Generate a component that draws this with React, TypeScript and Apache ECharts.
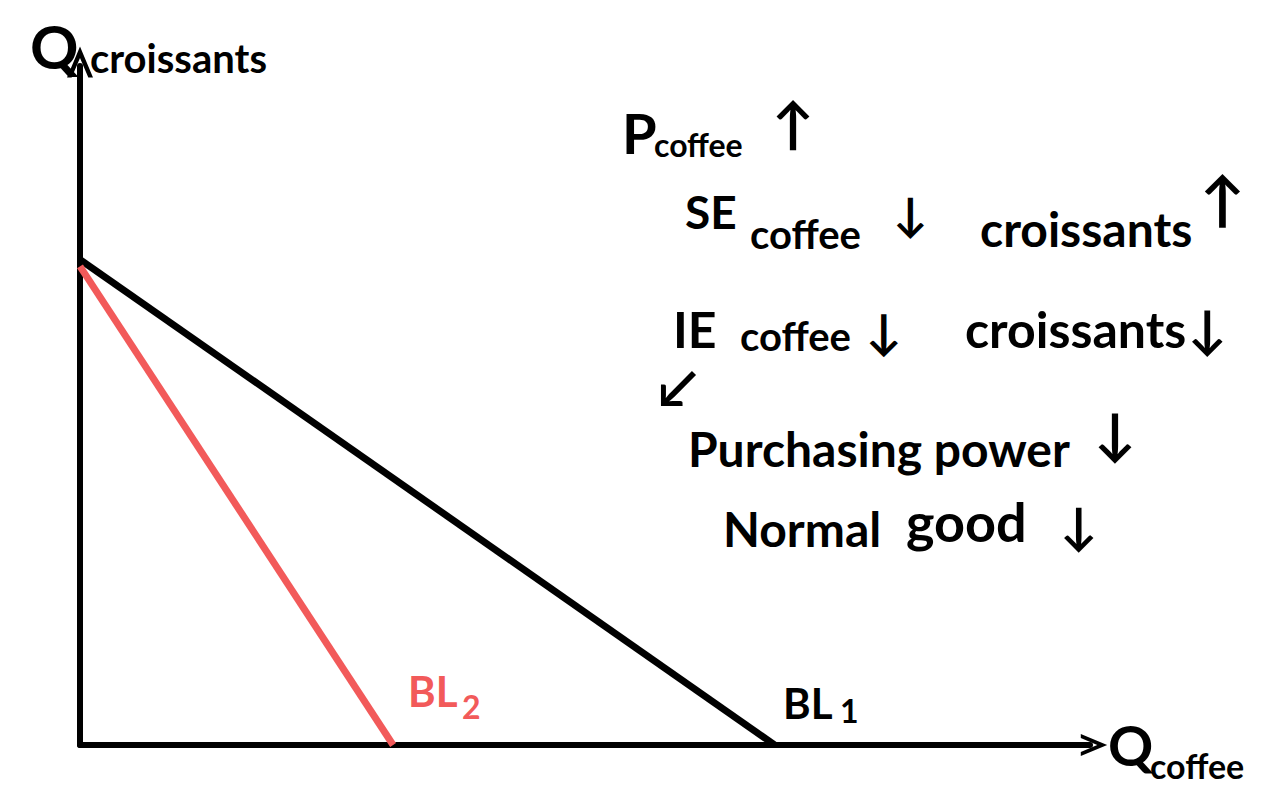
import React, { useEffect, useRef } from "react";
import * as echarts from "echarts";

const xRange = [0, 100];
const yRange = [0, 100];
const bl1Points: [number, number][] = [[0, 71.5], [68.8, 0]];
const bl2Points: [number, number][] = [[0, 70.5], [31, 0]];
const seriesNames = ["BL1", "BL2"];
const yAxisName = "croissants";
const xAxisName = "coffee";

const FONT = "Lato, 'DejaVu Sans', sans-serif";
const BLACK = "#000000";
const RED = "#f25a5a";

function txt(x: number, y: number, text: string, size: number, color = BLACK, weight: any = "bold") {
  return {
    type: "text",
    x,
    y,
    style: { text, fontSize: size, fontFamily: FONT, fontWeight: weight, fill: color },
  };
}

export default function App() {
  const ref = useRef<HTMLDivElement>(null);
  useEffect(() => {
    if (!ref.current) return;
    const chart = echarts.init(ref.current, null, { renderer: "svg" });
    const chevron = "path://M0,12 L5,0 L10,12 L8.2,12 L5,4.5 L1.8,12 Z";
    chart.setOption({
      animation: false,
      backgroundColor: "#ffffff",
      grid: { left: 80, right: 174, top: 66, bottom: 50 },
      xAxis: {
        type: "value",
        min: xRange[0],
        max: xRange[1],
        axisLine: { show: true, onZero: false, lineStyle: { color: BLACK, width: 6 }, symbol: ["none", chevron], symbolSize: [22, 28], symbolOffset: [0, 4] },
        axisTick: { show: false },
        axisLabel: { show: false },
        splitLine: { show: false },
      },
      yAxis: {
        type: "value",
        min: yRange[0],
        max: yRange[1],
        axisLine: { show: true, onZero: false, lineStyle: { color: BLACK, width: 6 }, symbol: ["none", chevron], symbolSize: [26, 32], symbolOffset: [0, 4] },
        axisTick: { show: false },
        axisLabel: { show: false },
        splitLine: { show: false },
      },
      series: [
        {
          name: seriesNames[0],
          type: "line",
          data: bl1Points,
          symbol: "none",
          lineStyle: { color: BLACK, width: 7 },
        },
        {
          name: seriesNames[1],
          type: "line",
          data: bl2Points,
          symbol: "none",
          lineStyle: { color: RED, width: 7 },
        },
      ],
      graphic: [
        txt(30, 16, "Q", 60),
        txt(90, 38, yAxisName, 40),
        txt(1108, 716, "Q", 56),
        txt(1150, 748, xAxisName, 34),
        txt(408, 670, "BL", 42, RED),
        txt(462, 690, "2", 32, RED),
        txt(783, 682, "BL", 42),
        txt(840, 694, "1", 32),
        txt(622, 104, "P", 56),
        txt(654, 128, "coffee", 32),
        txt(772, 94, "↑", 56),
        txt(685, 188, "SE", 46),
        txt(750, 214, "coffee", 40),
        txt(893, 190, "↓", 46),
        txt(980, 204, "croissants", 48),
        txt(1200, 168, "↑", 60),
        txt(673, 304, "IE", 50),
        txt(740, 316, "coffee", 40),
        txt(866, 306, "↓", 48),
        txt(965, 304, "croissants", 50),
        txt(1188, 302, "↓", 52),
        txt(658, 360, "↙", 52),
        txt(688, 424, "Purchasing power", 48),
        txt(1094, 404, "↓", 56),
        txt(723, 504, "Normal", 48),
        txt(906, 494, "good", 54),
        txt(1060, 500, "↓", 50),
      ],
    });
    return () => chart.dispose();
  }, []);
  return <div ref={ref} style={{ position: "absolute", left: 0, top: 0, width: 1264, height: 795 }} />;
}
